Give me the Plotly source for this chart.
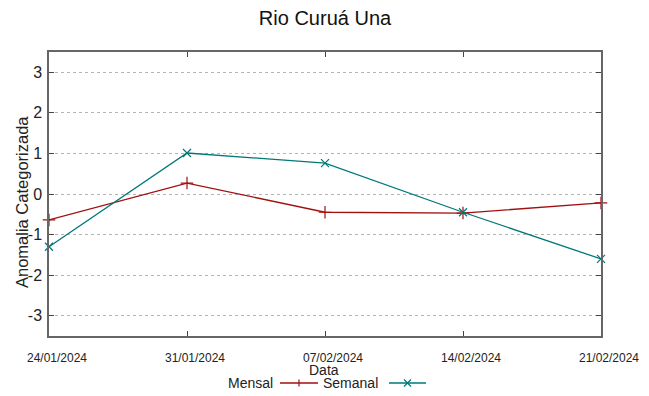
import plotly.graph_objects as go

dates = ["2024-01-24", "2024-01-31", "2024-02-07", "2024-02-14", "2024-02-21"]
tick_labels = ["24/01/2024", "31/01/2024", "07/02/2024", "14/02/2024", "21/02/2024"]
y_ticks = [-3, -2, -1, 0, 1, 2, 3]
y_tick_labels = ["-3", "-2", "-1", "0", "1", "2", "3"]
mensal = [-0.64, 0.27, -0.45, -0.47, -0.22]
semanal = [-1.30, 1.01, 0.76, -0.45, -1.60]

RED = "#a01010"
TEAL = "#007878"
FONT = "Liberation Sans, Arial, sans-serif"

W, H = 649, 396
L, R, T, B = 49, 601, 52, 336

def px(x):
    return (x - L) / (R - L)

def py(y):
    return (B - y) / (B - T)

fig = go.Figure()
fig.add_trace(go.Scatter(x=dates, y=mensal, mode="lines+markers", name="Mensal",
                         line=dict(color=RED, width=1.3),
                         marker=dict(symbol="cross-thin", size=9, line=dict(color=RED, width=1.2)),
                         showlegend=False, cliponaxis=False))
fig.add_trace(go.Scatter(x=dates, y=semanal, mode="lines+markers", name="Semanal",
                         line=dict(color=TEAL, width=1.3),
                         marker=dict(symbol="x-thin", size=8, line=dict(color=TEAL, width=1.2)),
                         showlegend=False, cliponaxis=False))

shapes = []
annotations = []
# custom legend: text then sample
legend_y = 383
items = [("Mensal", RED, 275, 280, 318, "plus"), ("Semanal", TEAL, 380, 389, 426, "x")]
for name, col, text_right, x0, x1, sym in items:
    annotations.append(dict(text=name, x=px(text_right), y=py(legend_y), xref="paper", yref="paper",
                            xanchor="right", yanchor="middle", showarrow=False,
                            font=dict(family=FONT, size=14, color="#222")))
    shapes.append(dict(type="line", xref="paper", yref="paper", x0=px(x0), x1=px(x1),
                       y0=py(legend_y), y1=py(legend_y), line=dict(color=col, width=1.3)))
    cx = (x0 + x1) / 2
    s = 3.5
    if sym == "plus":
        path = f"M{px(cx)},{py(legend_y - s)} L{px(cx)},{py(legend_y + s)}"
    else:
        path = (f"M{px(cx - s)},{py(legend_y - s)} L{px(cx + s)},{py(legend_y + s)} "
                f"M{px(cx - s)},{py(legend_y + s)} L{px(cx + s)},{py(legend_y - s)}")
    shapes.append(dict(type="path", xref="paper", yref="paper", path=path,
                       line=dict(color=col, width=1.2)))

annotations.append(dict(text="Data", x=px(324), y=py(370), xref="paper", yref="paper",
                        xanchor="center", yanchor="middle", showarrow=False,
                        font=dict(family=FONT, size=14, color="#222")))
annotations.append(dict(text="Anomalia Categorizada", x=px(22), y=py(202), xref="paper", yref="paper",
                        xanchor="center", yanchor="middle", showarrow=False, textangle=-90,
                        font=dict(family=FONT, size=16.5, color="#222")))

fig.update_layout(
    width=W, height=H,
    margin=dict(l=L, r=W - R, t=T, b=H - B, autoexpand=False),
    paper_bgcolor="white", plot_bgcolor="white",
    title=dict(text="Rio Curuá Una", x=0.5, xref="paper", xanchor="center",
               y=1 - 18 / H, yanchor="middle",
               font=dict(family=FONT, size=20, color="#111")),
    font=dict(family=FONT, color="#222"),
    shapes=shapes, annotations=annotations,
    showlegend=False,
)
fig.update_xaxes(
    type="date", range=[dates[0], dates[-1]],
    tickvals=dates, ticktext=tick_labels, automargin=False,
    tickfont=dict(family=FONT, size=12, color="#222"),
    ticks="inside", ticklen=5, tickcolor="#444", tickwidth=1,
    showline=True, linecolor="#666", linewidth=1.5, mirror="ticks",
    showgrid=False, zeroline=False, ticklabelstandoff=10, ticklabelshift=8,
)
fig.update_yaxes(
    range=[-3.5, 3.5], tickvals=y_ticks, ticktext=y_tick_labels, automargin=False,
    tickfont=dict(family=FONT, size=16, color="#222"),
    ticks="inside", ticklen=5, tickcolor="#444", tickwidth=1,
    showline=True, linecolor="#666", linewidth=1.5, mirror="ticks",
    showgrid=True, gridcolor="#b4b4b4", griddash="dot", gridwidth=1,
    zeroline=False, ticklabelstandoff=2,
)

fig.write_html("out.html", config={"displayModeBar": False},
               post_script="document.body.style.margin='0';document.body.style.padding='0';")
